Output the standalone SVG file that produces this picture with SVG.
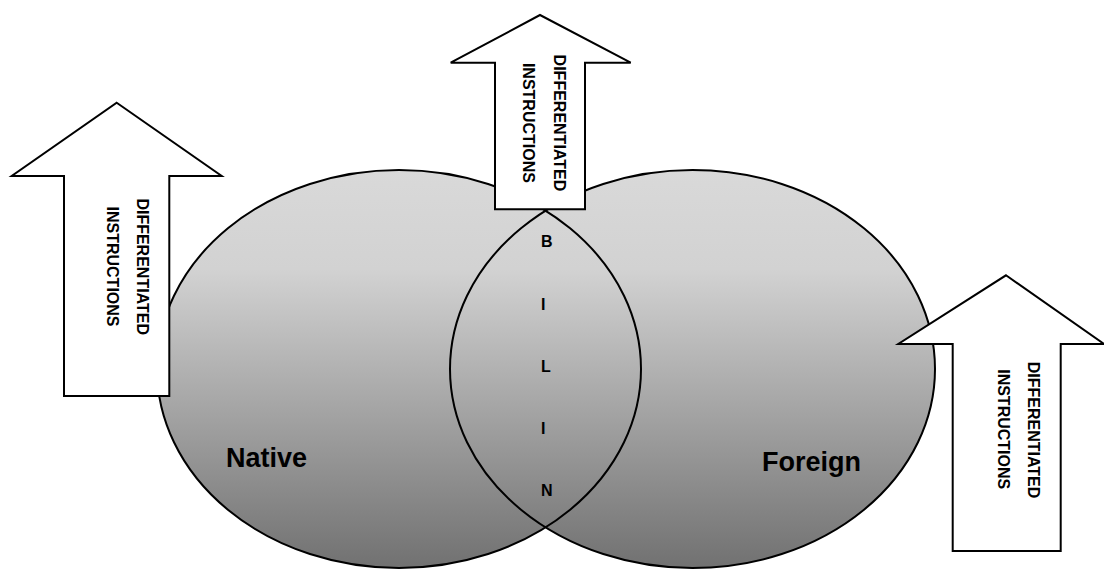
<svg xmlns="http://www.w3.org/2000/svg" width="1104" height="570" viewBox="0 0 1104 570">
<defs>
<linearGradient id="g" gradientUnits="userSpaceOnUse" x1="0" y1="170" x2="0" y2="568">
<stop offset="0" stop-color="#d9d9d9"/>
<stop offset="0.25" stop-color="#d2d2d2"/>
<stop offset="1" stop-color="#717171"/>
</linearGradient>
</defs>
<style>
.ell{fill:url(#g);stroke:none}
.out{fill:none;stroke:#000;stroke-width:2}
.arr{fill:#fff;stroke:#000;stroke-width:2;stroke-linejoin:miter}
.at{font-family:"Liberation Sans",Arial,sans-serif;font-weight:bold;font-size:16px;fill:#000;text-anchor:middle}
.lab{font-family:"Liberation Sans",Arial,sans-serif;font-weight:bold;font-size:27px;fill:#000}
.bl{font-family:"Liberation Sans",Arial,sans-serif;font-weight:bold;font-size:16px;fill:#000}
</style>
<g id="native">
<ellipse class="ell" cx="399" cy="369" rx="242" ry="199"/>
</g>
<g id="foreign">
<ellipse class="ell" cx="692.5" cy="369" rx="242.5" ry="199"/>
</g>
<g id="outlines">
<ellipse class="out" cx="399" cy="369" rx="242" ry="199"/>
<ellipse class="out" cx="692.5" cy="369" rx="242.5" ry="199"/>
</g>
<text class="lab" x="226" y="467">Native</text>
<text class="lab" x="762" y="471">Foreign</text>
<g id="bilin">
<text class="bl" x="541" y="247">B</text>
<text class="bl" x="541" y="310">I</text>
<text class="bl" x="541" y="372">L</text>
<text class="bl" x="541" y="434">I</text>
<text class="bl" x="541" y="496">N</text>
</g>
<g id="arrow-left">
<polygon class="arr" points="116.7,102.7 221.7,176 169.3,176 169.3,396 64,396 64,176 11.7,176"/>
<text class="at" transform="translate(136.8,266.7) rotate(90)">DIFFERENTIATED</text>
<text class="at" transform="translate(107.1,266.5) rotate(90)">INSTRUCTIONS</text>
</g>
<g id="arrow-middle">
<polygon class="arr" points="540,15 630.7,62.7 585,62.7 585,209.3 495,209.3 495,62.7 450.7,62.7"/>
<text class="at" transform="translate(553.6,122.9) rotate(90)">DIFFERENTIATED</text>
<text class="at" transform="translate(522.6,122.9) rotate(90)">INSTRUCTIONS</text>
</g>
<g id="arrow-right">
<polygon class="arr" points="1006,275.3 1104,344 1060.7,344 1060.7,551 952.7,551 952.7,344 898.3,344"/>
<text class="at" transform="translate(1027.6,430) rotate(90)">DIFFERENTIATED</text>
<text class="at" transform="translate(997.6,429.2) rotate(90)">INSTRUCTIONS</text>
</g>
</svg>
